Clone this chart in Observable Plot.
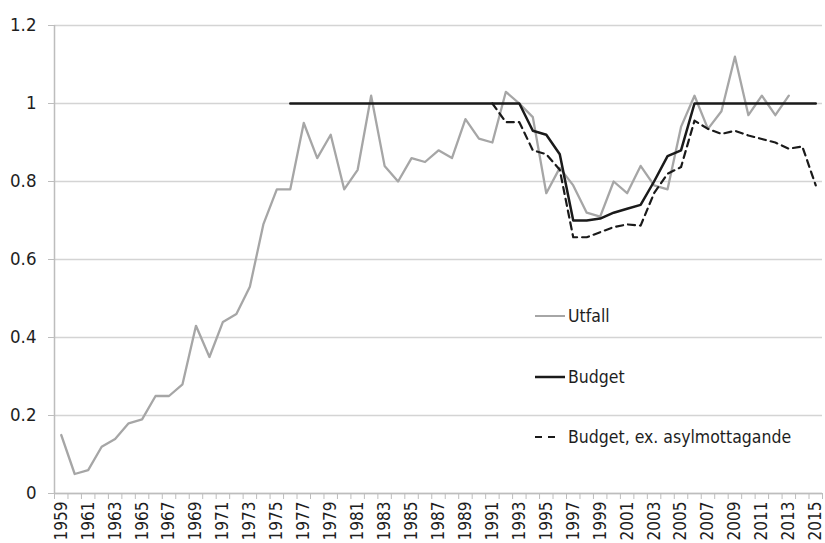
<!DOCTYPE html>
<html>
<head>
<meta charset="utf-8">
<script src="https://cdn.jsdelivr.net/npm/d3@7"></script>
<script src="https://cdn.jsdelivr.net/npm/@observablehq/plot@0.6"></script>
<style>
  html, body { margin: 0; padding: 0; background: #fff; }
  #wrap { position: relative; width: 825px; height: 543px; font-family: "Liberation Sans Narrow", "DejaVu Sans Condensed", "Roboto Condensed", sans-serif; font-stretch: condensed; }
  #legend { position: absolute; left: 0; top: 0; pointer-events: none; }
  .item { position: absolute; display: flex; align-items: center; font-size: 17.5px; color: #1e1e1e; white-space: nowrap; }
  .item svg { margin-right: 3px; }
</style>
</head>
<body>
<div id="wrap"><div id="legend"></div></div>
<script>
// Years 1959–2015
const years = d3.range(1959, 2016);

// Utfall (outcome) 1959–2013
const utfallYears = d3.range(1959, 2014);
const utfall = [0.15, 0.05, 0.06, 0.12, 0.14, 0.18, 0.19, 0.25, 0.25, 0.28,
  0.43, 0.35, 0.44, 0.46, 0.53, 0.69, 0.78, 0.78, 0.95, 0.86,
  0.92, 0.78, 0.83, 1.02, 0.84, 0.80, 0.86, 0.85, 0.88, 0.86,
  0.96, 0.91, 0.90, 1.03, 1.00, 0.965, 0.77, 0.835, 0.79, 0.72,
  0.71, 0.80, 0.77, 0.84, 0.79, 0.78, 0.94, 1.02, 0.935, 0.98,
  1.12, 0.97, 1.02, 0.97, 1.02];

// Budget 1976–2015
const budgetYears = d3.range(1976, 2016);
const budget = [1, 1, 1, 1, 1, 1, 1, 1, 1, 1,
  1, 1, 1, 1, 1, 1, 1, 1, 0.93, 0.92,
  0.87, 0.70, 0.70, 0.705, 0.72, 0.73, 0.74, 0.80, 0.865, 0.88,
  1, 1, 1, 1, 1, 1, 1, 1, 1, 1];

// Budget, ex. asylmottagande 1991–2015
const exYears = d3.range(1991, 2016);
const budgetEx = [1, 0.952, 0.952, 0.88, 0.87, 0.83, 0.657, 0.657, 0.67, 0.683,
  0.69, 0.687, 0.77, 0.82, 0.837, 0.956, 0.935, 0.922, 0.93, 0.918,
  0.909, 0.90, 0.884, 0.89, 0.79];

const yTicks = [0, 0.2, 0.4, 0.6, 0.8, 1, 1.2];
const xLabelYears = years.filter(y => (y - 1959) % 2 === 0);
const xBoundaries = d3.range(1958.5, 2016, 1);

const legendItems = [
  {label: "Utfall", color: "#a6a6a6", dash: null, width: 2},
  {label: "Budget", color: "#1a1a1a", dash: null, width: 2.5},
  {label: "Budget, ex. asylmottagande", color: "#1a1a1a", dash: "7,6", width: 2}
];

const utfallData = utfallYears.map((y, i) => ({year: y, value: utfall[i]}));
const budgetData = budgetYears.map((y, i) => ({year: y, value: budget[i]}));
const exData = exYears.map((y, i) => ({year: y, value: budgetEx[i]}));

const font = "'Liberation Sans Narrow', 'DejaVu Sans Condensed', 'Roboto Condensed', sans-serif";

const chart = Plot.plot({
  width: 825,
  height: 543,
  marginLeft: 54,
  marginRight: 3,
  marginTop: 25,
  marginBottom: 50,
  style: {fontFamily: font, fontSize: "17px", color: "#1e1e1e", background: "#fff", fontStretch: "condensed"},
  x: {domain: [1958.5, 2015.5], label: null},
  y: {domain: [0, 1.2], label: null},
  marks: [
    Plot.gridY(yTicks, {stroke: "#d4d4d4", strokeOpacity: 1, strokeWidth: 1.5}),
    Plot.ruleX([1958.5], {stroke: "#bdbdbd", strokeWidth: 1.5}),
    Plot.ruleY([0], {stroke: "#bdbdbd", strokeWidth: 1.5}),
    Plot.axisY({ticks: yTicks, tickSize: 6, tickPadding: 12, stroke: "#bdbdbd",
      tickFormat: d => String(+d.toFixed(1)), fontSize: 18.5, fill: "#1e1e1e"}),
    Plot.axisX({ticks: xBoundaries, tickSize: 6, tickFormat: () => "", stroke: "#bdbdbd"}),
    Plot.axisX({ticks: xLabelYears, tickSize: 0, tickPadding: 8, tickRotate: -90,
      tickFormat: d => String(d), fontSize: 17, fill: "#1e1e1e"}),
    Plot.line(utfallData, {x: "year", y: "value", stroke: "#a6a6a6", strokeWidth: 2.3}),
    Plot.line(exData, {x: "year", y: "value", stroke: "#1a1a1a", strokeWidth: 2.2, strokeDasharray: "7,5"}),
    Plot.line(budgetData, {x: "year", y: "value", stroke: "#1a1a1a", strokeWidth: 2.5})
  ]
});

const wrap = document.getElementById("wrap");
wrap.insertBefore(chart, wrap.firstChild);

// Legend inside the plot area
const legend = document.getElementById("legend");
const legendTops = [316, 377, 437];
legendItems.forEach((it, i) => {
  const div = document.createElement("div");
  div.className = "item";
  div.style.left = "535px";
  div.style.top = (legendTops[i] - 11) + "px";
  div.style.height = "22px";
  const ns = "http://www.w3.org/2000/svg";
  const s = document.createElementNS(ns, "svg");
  s.setAttribute("width", 30); s.setAttribute("height", 10);
  const l = document.createElementNS(ns, "line");
  l.setAttribute("x1", 0); l.setAttribute("x2", it.dash ? 20 : 30);
  l.setAttribute("y1", 5); l.setAttribute("y2", 5);
  l.setAttribute("stroke", it.color); l.setAttribute("stroke-width", it.width);
  if (it.dash) l.setAttribute("stroke-dasharray", it.dash);
  s.appendChild(l);
  div.appendChild(s);
  const t = document.createElement("span");
  t.textContent = it.label;
  div.appendChild(t);
  legend.appendChild(div);
});
</script>
</body>
</html>
